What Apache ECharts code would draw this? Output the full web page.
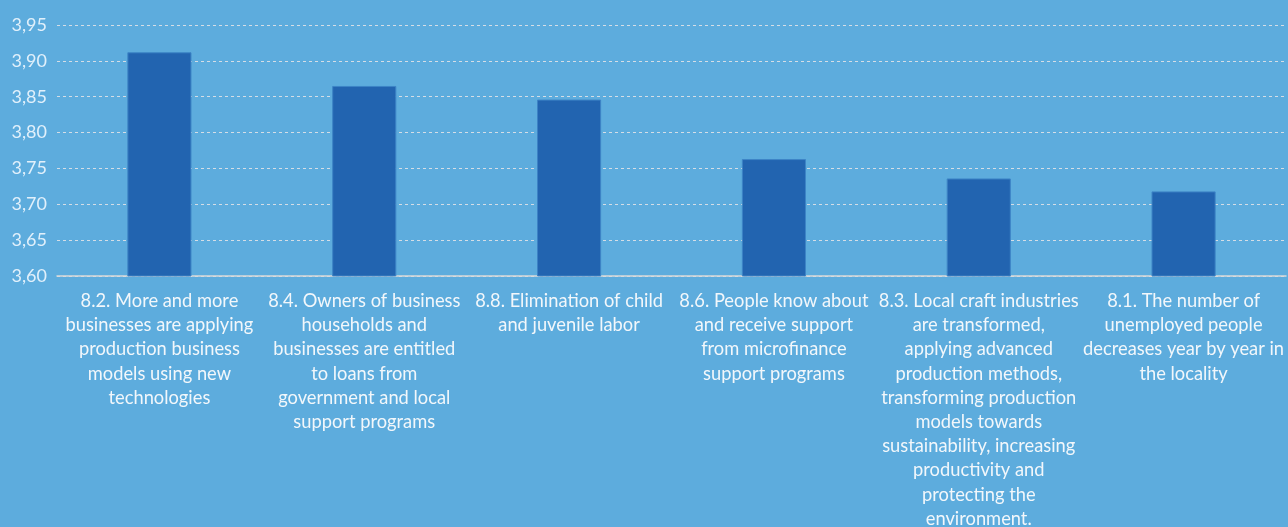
<!DOCTYPE html>
<html><head><meta charset="utf-8">
<script src="https://cdn.jsdelivr.net/npm/echarts@6/dist/echarts.min.js"></script>
<style>html,body{margin:0;padding:0;background:#5dacdd;overflow:hidden;}#c{width:1288px;height:527px;}</style>
</head><body><div id="c"></div>
<script>
const categories = [
  "8.2. More and more\nbusinesses are applying\nproduction business\nmodels using new\ntechnologies",
  "8.4. Owners of business\nhouseholds and\nbusinesses are entitled\nto loans from\ngovernment and local\nsupport programs",
  "8.8. Elimination of child\nand juvenile labor",
  "8.6. People know about\nand receive support\nfrom microfinance\nsupport programs",
  "8.3. Local craft industries\nare transformed,\napplying advanced\nproduction methods,\ntransforming production\nmodels towards\nsustainability, increasing\nproductivity and\nprotecting the\nenvironment.",
  "8.1. The number of\nunemployed people\ndecreases year by year in\nthe locality"
];
const values = [3.912, 3.865, 3.846, 3.763, 3.736, 3.718];
const yMin = 3.60, yMax = 3.95, yStep = 0.05;

const chart = echarts.init(document.getElementById('c'));
chart.setOption({
  backgroundColor: '#5dacdd',
  animation: false,
  grid: {left: 57, right: 2, top: 25, height: 251, containLabel: false, outerBoundsMode: 'none'},
  xAxis: {
    type: 'category', data: categories,
    axisLine: {show: true, lineStyle: {color: '#d9d9d9', width: 1.5}},
    axisTick: {show: false},
    axisLabel: {color: '#f2f7fb', fontFamily: 'Lato', fontSize: 18.3, lineHeight: 24.2, margin: 13, interval: 0}
  },
  yAxis: {
    type: 'value', min: yMin, max: yMax, interval: yStep,
    axisLine: {show: false}, axisTick: {show: false},
    splitLine: {show: true, lineStyle: {color: '#d4dde6', type: [3, 3], width: 1}},
    axisLabel: {color: '#e1f0fb', fontFamily: 'Lato', fontSize: 18, margin: 10,
      formatter: v => v.toFixed(2).replace('.', ',')}
  },
  series: [{
    type: 'bar', data: values, barWidth: '31.3%',
    itemStyle: {color: '#2264b0', borderColor: '#3d84c6', borderWidth: 1}
  }]
});
</script></body></html>
